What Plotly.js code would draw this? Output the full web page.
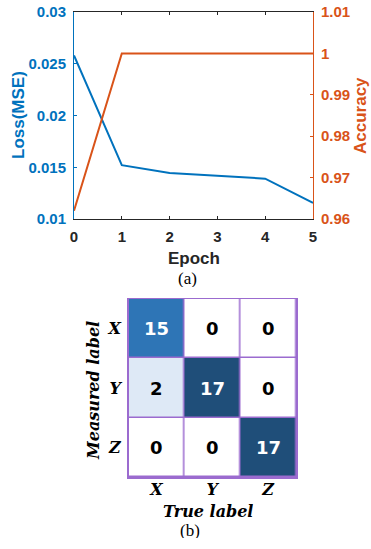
<!DOCTYPE html>
<html>
<head>
<meta charset="utf-8">
<script src="https://cdn.plot.ly/plotly-3.0.1.min.js"></script>
<style>html,body{margin:0;padding:0;background:#fff;}#chart{width:371px;height:549px;}</style>
</head>
<body>
<div id="chart"></div>
<script>
// ---- Data ----
var epochs = [0, 1, 2, 3, 4, 5];
var lossMSE = [0.0258, 0.0152, 0.01445, 0.0142, 0.0139, 0.01155];
var accuracy = [0.962, 1.0, 1.0, 1.0, 1.0, 1.0];
var lossTicks = [0.01, 0.015, 0.02, 0.025, 0.03];
var lossTickText = ['0.01', '0.015', '0.02', '0.025', '0.03'];
var accTicks = [0.96, 0.97, 0.98, 0.99, 1.0, 1.01];
var accTickText = ['0.96', '0.97', '0.98', '0.99', '1', '1.01'];
var trueLabels = ['X', 'Y', 'Z'];
var measuredLabels = ['X', 'Y', 'Z'];
// rows = measured label, cols = true label
var confusion = [
  [15, 0, 0],
  [2, 17, 0],
  [0, 0, 17]
];

var W = 371, H = 549;
function px(x) { return x / W; }
function py(y) { return 1 - y / H; }

var blue = '#0072bd', orange = '#d95319', dark = '#262626', purple = '#9b6bcf';
var sans = 'Liberation Sans, Arial, sans-serif';
var serif = 'DejaVu Serif, serif';

var traces = [
  { x: epochs, y: lossMSE, type: 'scatter', mode: 'lines', xaxis: 'x', yaxis: 'y',
    line: { color: blue, width: 2 }, hoverinfo: 'skip' },
  { x: epochs, y: accuracy, type: 'scatter', mode: 'lines', xaxis: 'x', yaxis: 'y2',
    line: { color: orange, width: 2 }, hoverinfo: 'skip' },
  { z: confusion, x: trueLabels, y: measuredLabels, type: 'heatmap', xaxis: 'x2', yaxis: 'y3',
    zmin: 0, zmax: 17, showscale: false, xgap: 1.5, ygap: 1.5,
    colorscale: [[0, '#ffffff'], [2/17, '#dee9f6'], [15/17, '#2e75b6'], [1, '#1f4e79']],
    hoverinfo: 'skip' }
];

var annotations = [];
for (var i = 0; i < measuredLabels.length; i++) {
  for (var j = 0; j < trueLabels.length; j++) {
    var v = confusion[i][j];
    annotations.push({ x: trueLabels[j], y: measuredLabels[i], xref: 'x2', yref: 'y3',
      text: String(v), showarrow: false,
      font: { family: 'DejaVu Sans, sans-serif', size: 18, weight: 'bold', color: v >= 10 ? '#ffffff' : '#000000' } });
  }
}
annotations.push(
  { text: 'Loss(MSE)', xref: 'paper', yref: 'paper', x: px(18.5), y: py(115.5), textangle: -90,
    showarrow: false, xanchor: 'center', yanchor: 'middle', font: { family: sans, size: 17, weight: 'bold', color: blue } },
  { text: 'Accuracy', xref: 'paper', yref: 'paper', x: px(360.5), y: py(115.5), textangle: -90,
    showarrow: false, xanchor: 'center', yanchor: 'middle', font: { family: sans, size: 17, weight: 'bold', color: orange } },
  { text: 'Epoch', xref: 'paper', yref: 'paper', x: px(193.5), y: py(258), showarrow: false, height: 18,
    xanchor: 'center', yanchor: 'middle', font: { family: sans, size: 17, weight: 'bold', color: dark } },
  { text: '(a)', xref: 'paper', yref: 'paper', x: px(187), y: py(278), showarrow: false, height: 18,
    xanchor: 'center', yanchor: 'middle', font: { family: 'Liberation Serif, serif', size: 17, color: '#000' } },
  { text: 'True label', xref: 'paper', yref: 'paper', x: px(208), y: py(511), showarrow: false, height: 16,
    xanchor: 'center', yanchor: 'middle', font: { family: serif, size: 16, weight: 'bold', style: 'italic', color: '#000' } },
  { text: 'Measured label', xref: 'paper', yref: 'paper', x: px(93), y: py(391), textangle: -90, showarrow: false,
    xanchor: 'center', yanchor: 'middle', font: { family: serif, size: 16, weight: 'bold', style: 'italic', color: '#000' } },
  { text: '(b)', xref: 'paper', yref: 'paper', x: px(190), y: py(529.5), showarrow: false, height: 16,
    xanchor: 'center', yanchor: 'middle', font: { family: 'Liberation Serif, serif', size: 17, color: '#000' } }
);

var layout = {
  width: W, height: H,
  margin: { l: 0, r: 0, t: 0, b: 0 },
  paper_bgcolor: '#ffffff', plot_bgcolor: '#ffffff',
  showlegend: false,
  xaxis: { domain: [px(74), px(313)], anchor: 'y', range: [0, 5], tickvals: epochs,
    ticks: 'inside', ticklen: 3, tickcolor: dark, showline: true, linecolor: dark, linewidth: 1, mirror: 'ticks',
    showgrid: false, zeroline: false, ticklabelstandoff: 4,
    tickfont: { family: sans, size: 15, weight: 'bold', color: dark } },
  yaxis: { domain: [py(219), py(12)], anchor: 'x', range: [0.01, 0.03], tickvals: lossTicks, ticktext: lossTickText,
    ticks: 'inside', ticklen: 3, tickcolor: blue, showline: true, linecolor: blue, linewidth: 1,
    showgrid: false, zeroline: false, ticklabelstandoff: 4,
    tickfont: { family: sans, size: 15, weight: 'bold', color: blue } },
  yaxis2: { overlaying: 'y', side: 'right', anchor: 'x', range: [0.96, 1.01], tickvals: accTicks, ticktext: accTickText,
    ticks: 'inside', ticklen: 3, tickcolor: orange, showline: true, linecolor: orange, linewidth: 1,
    showgrid: false, zeroline: false, ticklabelstandoff: 4,
    tickfont: { family: sans, size: 15, weight: 'bold', color: orange } },
  xaxis2: { domain: [px(128.5), px(296)], anchor: 'y3', type: 'category',
    showline: true, linecolor: purple, linewidth: 1.5, mirror: true, ticks: '', showgrid: false, zeroline: false,
    ticklabelstandoff: -3,
    tickfont: { family: serif, size: 16, weight: 'bold', style: 'italic', color: '#000' } },
  yaxis3: { domain: [py(477), py(299)], anchor: 'x2', type: 'category', autorange: 'reversed',
    showline: true, linecolor: purple, linewidth: 1.5, mirror: true, ticks: '', showgrid: false, zeroline: false,
    ticklabelstandoff: 3,
    tickfont: { family: serif, size: 16, weight: 'bold', style: 'italic', color: '#000' } },
  shapes: [
    { type: 'rect', xref: 'x2 domain', yref: 'y3 domain', x0: 0, x1: 1, y0: 0, y1: 1,
      fillcolor: purple, line: { width: 0 }, layer: 'below' }
  ],
  annotations: annotations
};

Plotly.newPlot('chart', traces, layout, { staticPlot: true, displayModeBar: false });
</script>
</body>
</html>
